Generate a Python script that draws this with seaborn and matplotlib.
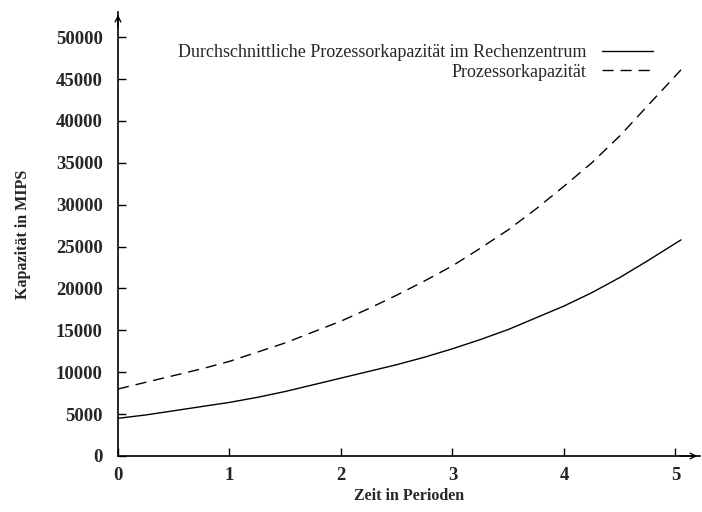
import numpy as np
import pandas as pd
import matplotlib
matplotlib.use("Agg")
import matplotlib.pyplot as plt
import seaborn as sns

# values
perioden = [0, 0.25, 0.5, 0.75, 1, 1.25, 1.5, 1.75, 2, 2.25, 2.5,
            2.75, 3, 3.25, 3.5, 3.75, 4, 4.25, 4.5, 4.75, 5.05]
rechenzentrum = [4500, 4900, 5400, 5900, 6400, 7000, 7700, 8500, 9300, 10100, 10900,
                 11800, 12800, 13900, 15100, 16500, 17900, 19500, 21300, 23300, 25800]
prozessor = [8000, 8800, 9600, 10400, 11300, 12400, 13500, 14800, 16100, 17600, 19200,
             20900, 22700, 24800, 27000, 29500, 32200, 35000, 38200, 41800, 46100]
namen = ["Durchschnittliche Prozessorkapazität im Rechenzentrum", "Prozessorkapazität"]

df = pd.DataFrame({
    "Zeit": perioden * 2,
    "Kapazitaet": rechenzentrum + prozessor,
    "Reihe": [namen[0]] * len(perioden) + [namen[1]] * len(perioden),
})

sns.set_style("white")
plt.rcParams["font.family"] = ["Liberation Serif", "DejaVu Serif"]

fig = plt.figure(figsize=(7.02, 5.12), dpi=100)
ax = fig.add_axes([118 / 702, 56 / 512, 582 / 702, 444 / 512])

sns.lineplot(data=df, x="Zeit", y="Kapazitaet", hue="Reihe", style="Reihe",
             palette=["black", "black"], dashes=[(None, None), (8, 5)],
             linewidth=1.0, ax=ax)

ax.set_xlim(0, 5.22)
ax.set_ylim(0, 53000)
ax.set_xticks([0, 1, 2, 3, 4, 5])
ax.set_yticks(np.arange(0, 50001, 5000))
ax.tick_params(bottom=True, left=True, direction="in", length=6, width=1,
               color="black", labelsize=13.5)
ax.tick_params(axis="y", pad=11)
ax.tick_params(axis="x", pad=8)
for lab in ax.get_xticklabels() + ax.get_yticklabels():
    lab.set_fontweight("bold")

ax.set_xlabel("Zeit in Perioden", fontsize=11.5, fontweight="bold", labelpad=3)
ax.set_ylabel("Kapazität in MIPS", fontsize=11.5, fontweight="bold", labelpad=18)

for s in ["top", "right"]:
    ax.spines[s].set_visible(False)
for s in ["left", "bottom"]:
    ax.spines[s].set_linewidth(1.2)
    ax.spines[s].set_color("black")

# arrow heads at axis ends
ax.annotate("", xy=(1.0, 0), xytext=(0.96, 0), xycoords="axes fraction",
            arrowprops=dict(arrowstyle="->", lw=1.0, color="black"))
ax.annotate("", xy=(0, 1.0), xytext=(0, 0.96), xycoords="axes fraction",
            arrowprops=dict(arrowstyle="->", lw=1.0, color="black"))

leg = ax.legend(loc="upper right", bbox_to_anchor=(0.919, 0.927),
                frameon=False, markerfirst=False, fontsize=13,
                handlelength=2.8, handletextpad=0.9, labelspacing=0.12,
                borderpad=0, borderaxespad=0)
for t in leg.get_texts():
    t.set_ha("right")
leg._legend_box.align = "right"

fig.savefig("out.png", dpi=100)
